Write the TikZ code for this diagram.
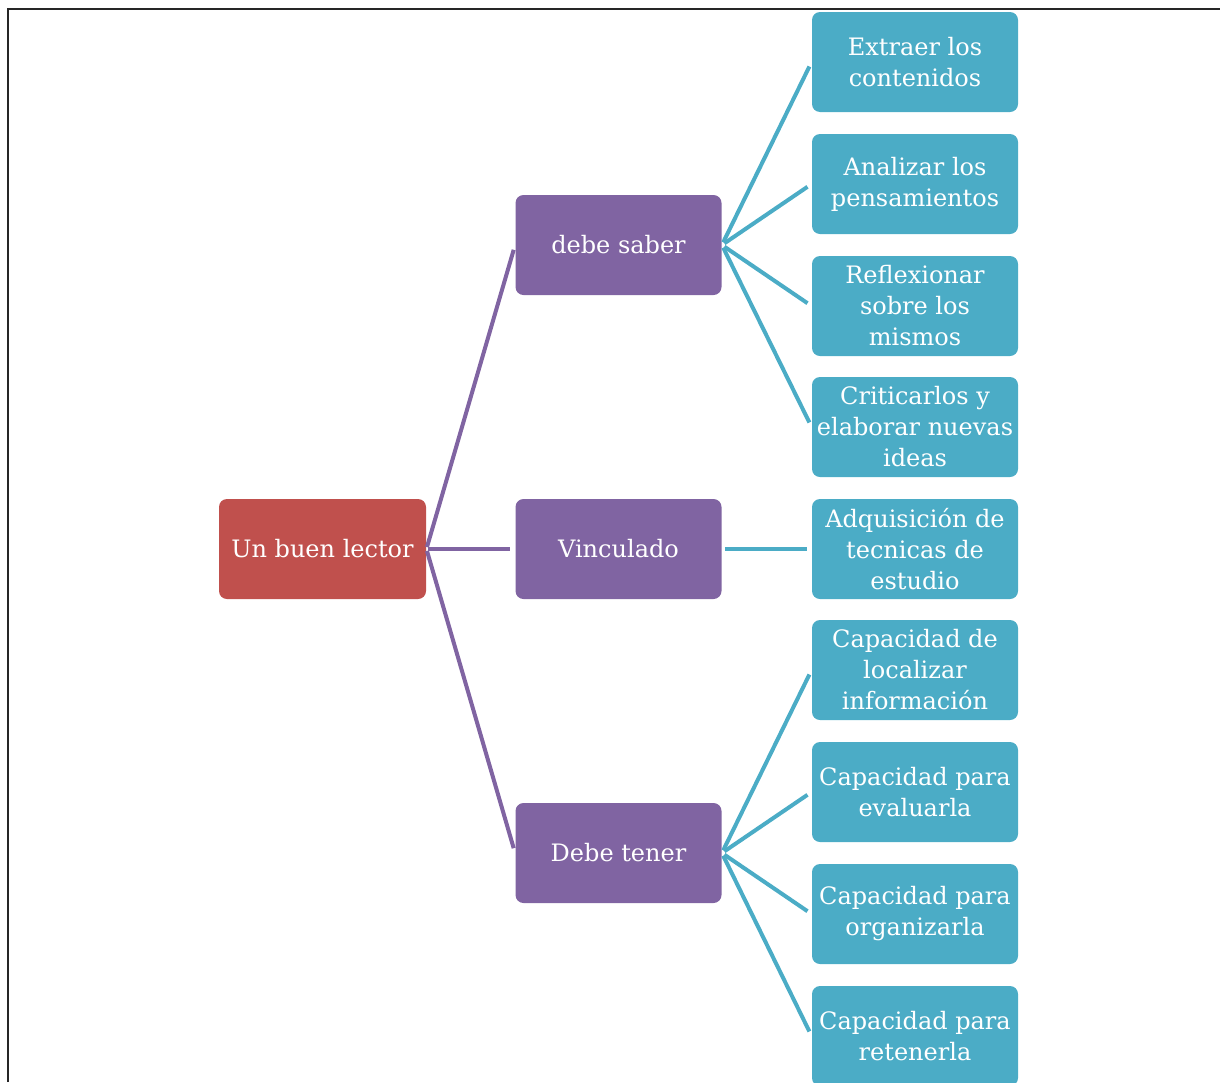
\documentclass[tikz,border=0pt]{standalone}
\usepackage{fontspec}
\setmainfont{DejaVu Serif}

\definecolor{rojo}{HTML}{C0504D}
\definecolor{morado}{HTML}{8064A2}
\definecolor{celeste}{HTML}{4BACC6}

\tikzset{
	caja/.style={rounded corners=4pt, minimum width=103pt, minimum height=50pt,
		inner sep=1pt, align=center, text=white,
		font=\fontsize{12}{15.5}\selectfont},
	raiz/.style={caja, fill=rojo, minimum width=103.5pt},
	medio/.style={caja, fill=morado},
	hoja/.style={caja, fill=celeste},
	rama/.style={morado, line width=2pt, shorten <=1pt, shorten >=2.5pt},
	ramita/.style={celeste, line width=2pt, shorten <=1.5pt, shorten >=2.5pt}
}

\begin{document}
\begin{tikzpicture}[x=0.5pt, y=-0.5pt]

\useasboundingbox (0,0) rectangle (1220,1082);

%% Rahmen
\draw[line width=1pt, black!85] (8,1082) -- (8,9) -- (1220,9);

%% Wurzel
\node[raiz] (lector) at (322.5,549) {Un buen lector};

%% Zweite Ebene
\node[medio] (saber)  at (618.5,245) {debe saber};
\node[medio] (vinc)   at (618.5,549) {Vinculado};
\node[medio] (tener)  at (618.5,853) {Debe tener};

%% Blaetter
\node[hoja] (extraer)   at (915,62)  {Extraer los\\contenidos};
\node[hoja] (analizar)  at (915,184) {Analizar los\\pensamientos};
\node[hoja] (reflex)    at (915,306) {Reflexionar\\sobre los\\mismos};
\node[hoja] (criticar)  at (915,427) {Criticarlos y\\elaborar nuevas\\ideas};
\node[hoja] (adquis)    at (915,549) {Adquisición de\\tecnicas de\\estudio};
\node[hoja] (localizar) at (915,670) {Capacidad de\\localizar\\información};
\node[hoja] (evaluar)   at (915,792) {Capacidad para\\evaluarla};
\node[hoja] (organizar) at (915,914) {Capacidad para\\organizarla};
\node[hoja] (retener)   at (915,1036) {Capacidad para\\retenerla};
%%%%%%%%%%%%%%%%

%% Verbindungen
\draw[rama] (lector.east) -- (saber.west);
\draw[rama] (lector.east) -- (vinc.west);
\draw[rama] (lector.east) -- (tener.west);

\draw[ramita] (saber.east) -- (extraer.west);
\draw[ramita] (saber.east) -- (analizar.west);
\draw[ramita] (saber.east) -- (reflex.west);
\draw[ramita] (saber.east) -- (criticar.west);
\draw[ramita] (vinc.east) -- (adquis.west);
\draw[ramita] (tener.east) -- (localizar.west);
\draw[ramita] (tener.east) -- (evaluar.west);
\draw[ramita] (tener.east) -- (organizar.west);
\draw[ramita] (tener.east) -- (retener.west);

\end{tikzpicture}
\end{document}
